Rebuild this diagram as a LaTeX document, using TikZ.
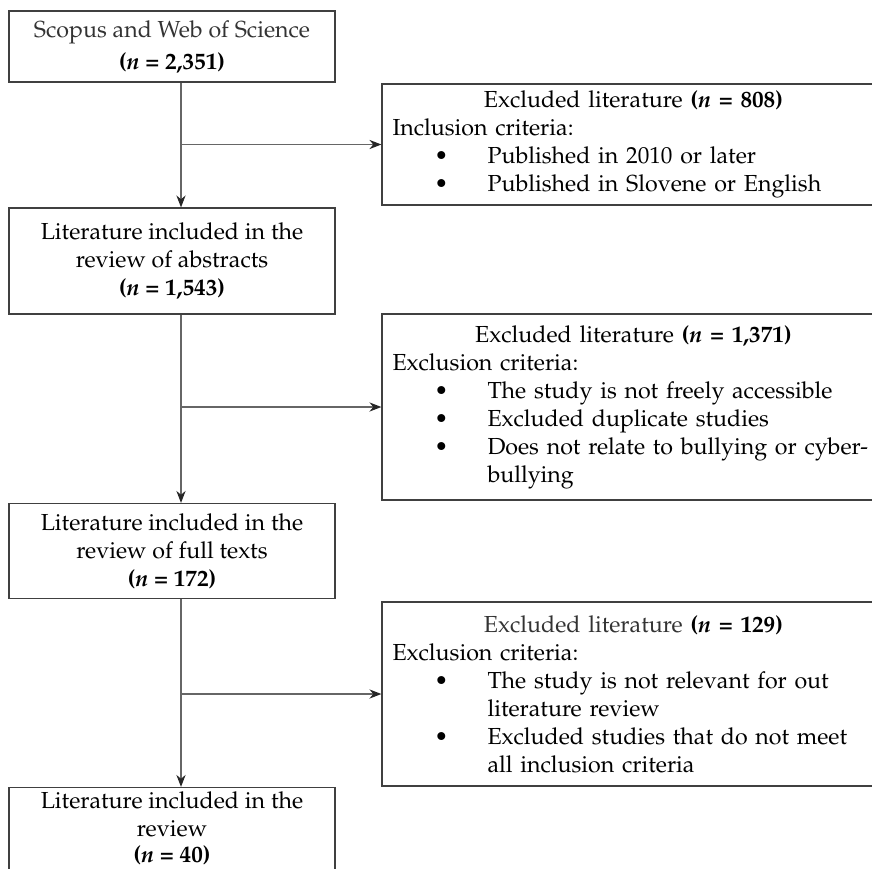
\documentclass[tikz,border=0pt]{standalone}
\usepackage[T1]{fontenc}
\usepackage{mathpazo}
\usepackage{tikz}
\usetikzlibrary{arrows.meta}

\newcommand{\bul}{\par\leftskip=47.5pt\noindent\llap{\textbullet\hspace{19.5pt}}}

\begin{document}
\begin{tikzpicture}[x=0.5pt,y=-0.5pt,
  mainbox/.style={draw=black!75,line width=0.6pt,minimum width=163pt,align=center,inner sep=0pt,font=\fontsize{11.6}{14}\selectfont},
  exbox/.style={draw=black!75,line width=0.6pt,minimum width=251.5pt,text width=241pt,inner xsep=5.25pt,inner ysep=0pt,align=left,font=\fontsize{11.6}{14}\selectfont},
  link/.style={draw=black!60,line width=0.6pt,-{Stealth[length=6pt,width=4.6pt,color=black!85]}}]
\useasboundingbox (0,0) rectangle (872,868);
% left column
\node[mainbox,minimum height=35.5pt] (src) at (172,46.5) {{\color{black!80}Scopus and Web of Science}\\[2pt]\textbf{(\textit{n} = 2,351)}};
\node[mainbox,minimum height=53pt] (abs) at (172,261) {Literature included in the\\review of abstracts\\\textbf{(\textit{n} = 1,543)}};
\node[mainbox,minimum height=47.5pt] (full) at (172,551) {Literature included in the\\review of full texts\\\textbf{(\textit{n} = 172)}};
\node[mainbox,minimum height=41pt] (fin) at (172,828.5) {Literature included in the\\review\\[-1pt]\textbf{(\textit{n} = 40)}};
% excluded boxes
\node[exbox,minimum height=60.5pt] (ex1) at (633.5,144.5) {{\centering Excluded literature \textbf{(\textit{n} = 808)}\par}
Inclusion criteria:
\bul Published in 2010 or later
\bul Published in Slovene or English\par};
\node[exbox,minimum height=93pt] (ex2) at (633.5,407) {{\centering Excluded literature \textbf{(\textit{n} = 1,371)}\par}
Exclusion criteria:
\bul The study is not freely accessible
\bul Excluded duplicate studies
\bul Does not relate to bullying or cyber-\\bullying\par};
\node[exbox,minimum height=92pt] (ex3) at (633.5,694) {{\centering{\color{black!80}Excluded literature} \textbf{(\textit{n} = 129)}\par}
Exclusion criteria:
\bul The study is not relevant for out\\literature review
\bul Excluded studies that do not meet\\all inclusion criteria\par};
% connectors
\coordinate (trunk) at (181,0);
\draw[link] (src.south -| trunk) -- (abs.north -| trunk);
\draw[link] (ex1.west -| trunk) -- (ex1.west);
\draw[link] (abs.south -| trunk) -- (full.north -| trunk);
\draw[link] (ex2.west -| trunk) -- (ex2.west);
\draw[link] (full.south -| trunk) -- (fin.north -| trunk);
\draw[link] (ex3.west -| trunk) -- (ex3.west);
\end{tikzpicture}
\end{document}
